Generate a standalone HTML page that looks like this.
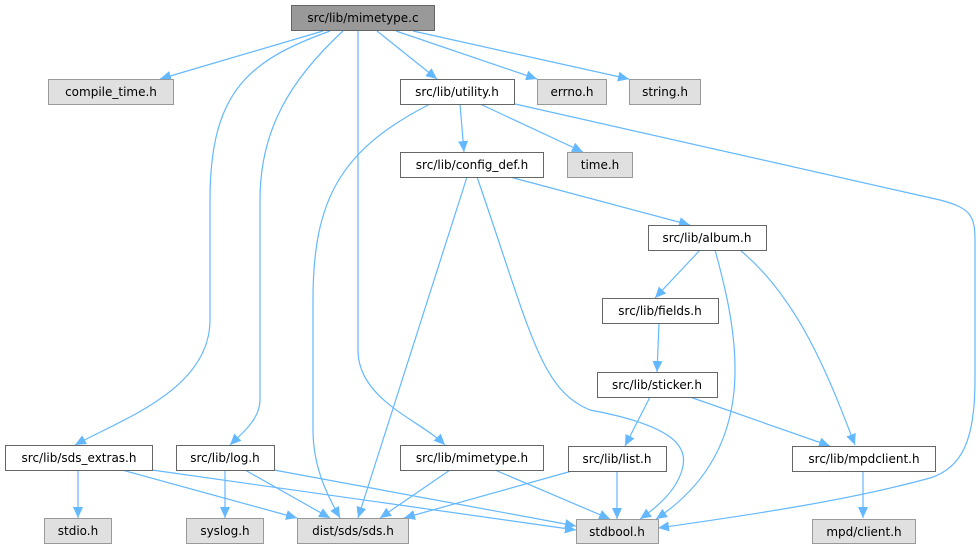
<!DOCTYPE html>
<html><head><meta charset="utf-8"><style>
body{margin:0;background:#fff;width:980px;height:549px;overflow:hidden}
svg text{font-family:"DejaVu Sans","Liberation Sans",sans-serif;font-size:12px;text-anchor:middle}
</style></head><body>
<svg width="980" height="549" viewBox="0 0 980 549" xmlns="http://www.w3.org/2000/svg">
<defs><marker id="a" markerUnits="userSpaceOnUse" markerWidth="12" markerHeight="10" refX="11" refY="5" orient="auto"><path d="M0,0 L11,5 L0,10 z" fill="#63b8ff"/></marker></defs>
<g fill="none" stroke="#63b8ff" stroke-width="1.2" marker-end="url(#a)">
<path d="M323,31 L160,79"/>
<path d="M330,31 C250,60 210,90 210,200 L210,320 C210,390 120,420 75,445"/>
<path d="M343,31 C290,80 260,130 260,200 L260,400 C260,420 240,435 230,445"/>
<path d="M358,31 L358,350 C358,400 420,420 445,445"/>
<path d="M377,31 L437,79"/>
<path d="M396,31 L537,79"/>
<path d="M413,31 L629,79"/>
<path d="M430,104 C340,150 313,200 313,300 L313,430 C313,470 330,500 340,518"/>
<path d="M460,104 L464,152"/>
<path d="M480,104 L583,152"/>
<path d="M515,104 L940,200 C970,208 975,215 975,240 L975,380 C975,440 962,468 930,478 C850,500 750,515 658,528"/>
<path d="M467,177 L358,518"/>
<path d="M510,177 L690,225"/>
<path d="M477,177 C530,330 540,390 590,410 C670,425 690,445 682,470 C676,490 660,505 640,519"/>
<path d="M700,250 L655,298"/>
<path d="M715,250 C740,340 760,450 656,519"/>
<path d="M740,250 C800,300 830,380 855,445"/>
<path d="M659,323 L657,372"/>
<path d="M650,397 L625,446"/>
<path d="M690,397 L830,446"/>
<path d="M78,470 L78,518"/>
<path d="M122,470 L297,518"/>
<path d="M152,470 L576,530"/>
<path d="M225,470 L225,518"/>
<path d="M245,470 L330,518"/>
<path d="M274,470 L576,526"/>
<path d="M450,470 L380,518"/>
<path d="M495,470 L610,519"/>
<path d="M572,471 L404,518"/>
<path d="M617,471 L617,519"/>
<path d="M863,470 L863,518"/>
</g>
<g stroke-width="1">
<rect x="291.5" y="5.5" width="143" height="25" fill="#999" stroke="#666"/><text x="363" y="22">src/lib/mimetype.c</text>
<rect x="48.5" y="79.5" width="125" height="25" fill="#e0e0e0" stroke="#999"/><text x="111" y="96">compile_time.h</text>
<rect x="400.5" y="79.5" width="114" height="25" fill="#fff" stroke="#666"/><text x="457" y="96">src/lib/utility.h</text>
<rect x="537.5" y="79.5" width="69" height="25" fill="#e0e0e0" stroke="#999"/><text x="572" y="96">errno.h</text>
<rect x="629.5" y="79.5" width="71" height="25" fill="#e0e0e0" stroke="#999"/><text x="665" y="96">string.h</text>
<rect x="400.5" y="152.5" width="143" height="25" fill="#fff" stroke="#666"/><text x="472" y="169">src/lib/config_def.h</text>
<rect x="567.5" y="152.5" width="65" height="25" fill="#e0e0e0" stroke="#999"/><text x="600" y="169">time.h</text>
<rect x="648.5" y="225.5" width="118" height="25" fill="#fff" stroke="#666"/><text x="707" y="242">src/lib/album.h</text>
<rect x="602.5" y="298.5" width="116" height="25" fill="#fff" stroke="#666"/><text x="660" y="315">src/lib/fields.h</text>
<rect x="597.5" y="372.5" width="120" height="25" fill="#fff" stroke="#666"/><text x="657" y="389">src/lib/sticker.h</text>
<rect x="5.5" y="445.5" width="147" height="25" fill="#fff" stroke="#666"/><text x="79" y="462">src/lib/sds_extras.h</text>
<rect x="176.5" y="445.5" width="98" height="25" fill="#fff" stroke="#666"/><text x="225" y="462">src/lib/log.h</text>
<rect x="400.5" y="445.5" width="143" height="25" fill="#fff" stroke="#666"/><text x="472" y="462">src/lib/mimetype.h</text>
<rect x="568.5" y="446.5" width="98" height="25" fill="#fff" stroke="#666"/><text x="617" y="463">src/lib/list.h</text>
<rect x="792.5" y="446.5" width="143" height="25" fill="#fff" stroke="#666"/><text x="864" y="463">src/lib/mpdclient.h</text>
<rect x="44.5" y="518.5" width="67" height="25" fill="#e0e0e0" stroke="#999"/><text x="78" y="535">stdio.h</text>
<rect x="186.5" y="518.5" width="77" height="25" fill="#e0e0e0" stroke="#999"/><text x="225" y="535">syslog.h</text>
<rect x="297.5" y="518.5" width="111" height="25" fill="#e0e0e0" stroke="#999"/><text x="353" y="535">dist/sds/sds.h</text>
<rect x="576.5" y="519.5" width="82" height="24" fill="#e0e0e0" stroke="#999"/><text x="617" y="536">stdbool.h</text>
<rect x="812.5" y="519.5" width="103" height="24" fill="#e0e0e0" stroke="#999"/><text x="864" y="536">mpd/client.h</text>
</g>
</svg>
</body></html>
